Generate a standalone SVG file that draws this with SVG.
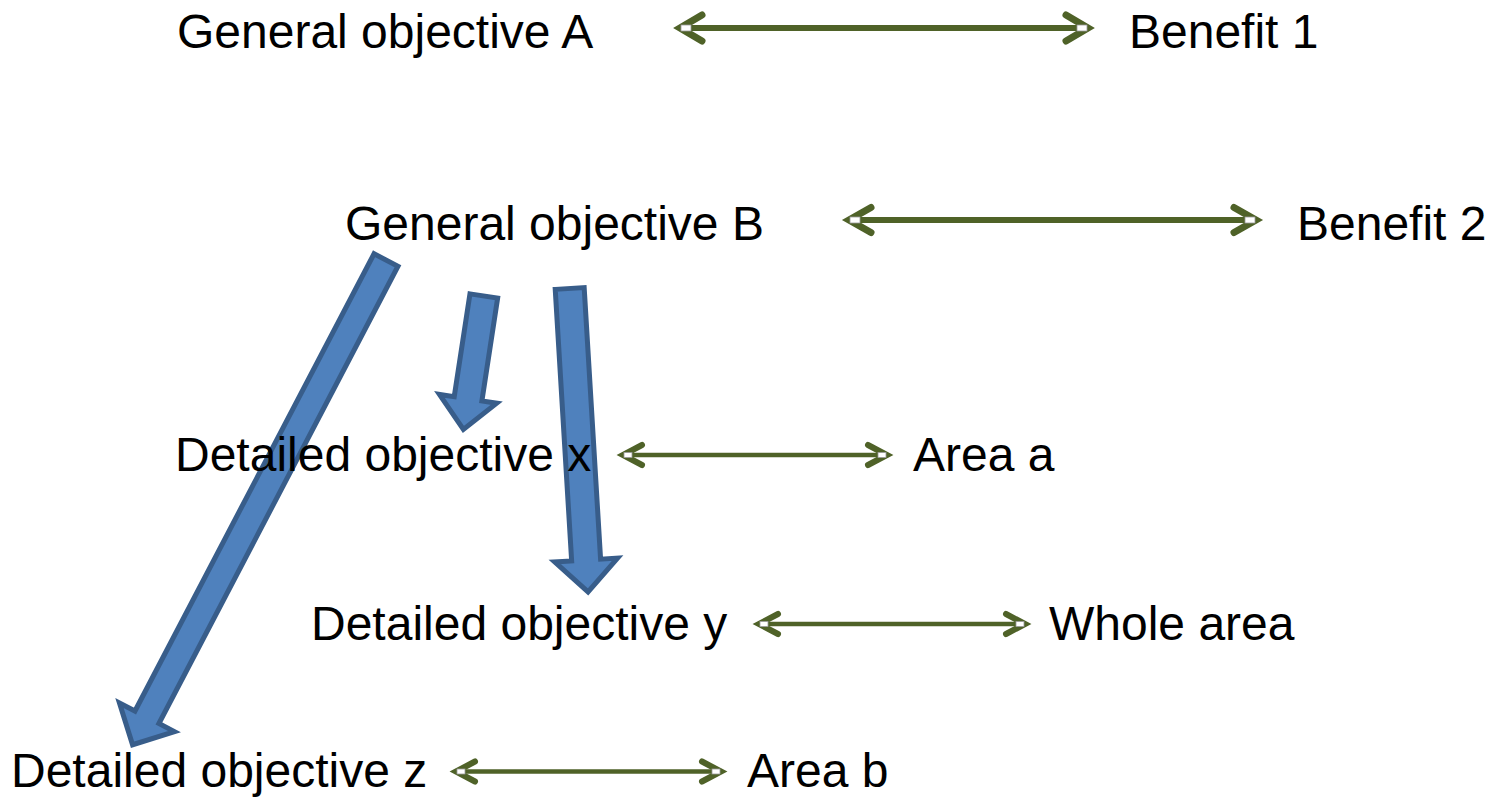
<svg xmlns="http://www.w3.org/2000/svg" width="1492" height="798" viewBox="0 0 1492 798">
<style>
.t{font-family:"Liberation Sans",Arial,sans-serif;font-size:48px;fill:#000}
.blk{fill:#4F81BD;stroke:#385D8A;stroke-width:5;stroke-linejoin:miter}
.ln{stroke:#4F6228;fill:none}
.big{stroke-width:6}
.sm{stroke-width:4.5}
.hd{stroke:#4F6228;fill:none;stroke-linecap:round;stroke-linejoin:miter;stroke-miterlimit:10}
.hb{stroke-width:7}
.hs{stroke-width:6}
.hdl{fill:#fff;stroke:#9a9a9a;stroke-width:0.8}
</style>
<rect width="1492" height="798" fill="#fff"/>
<g id="block-arrows">
<path class="blk" transform="translate(386,260) rotate(27.6)" d="M-13.5,0 L13.5,0 L13.5,516 L31,516 L0,547 L-31,516 L-13.5,516 Z"/>
<path class="blk" transform="translate(483.8,296) rotate(8.7)" d="M-14,0 L14,0 L14,104 L29,104 L0,135 L-29,104 L-14,104 Z"/>
<path class="blk" transform="translate(569.7,288.5) rotate(-3.46)" d="M-14.5,0 L14.5,0 L14.5,272 L31.5,272 L0,304 L-31.5,272 L-14.5,272 Z"/>
</g>
<g id="connectors">
<line class="ln big" x1="680" y1="28" x2="1088" y2="28"/>
<polyline class="hd hb" points="702,15 680,28 702,41"/>
<polyline class="hd hb" points="1066,15 1088,28 1066,41"/>
<rect class="hdl" x="681" y="25" width="10" height="6"/>
<rect class="hdl" x="1077" y="25" width="10" height="6"/>

<line class="ln big" x1="849" y1="220" x2="1256" y2="220"/>
<polyline class="hd hb" points="871,207.5 849,220 871,232.5"/>
<polyline class="hd hb" points="1234,207.5 1256,220 1234,232.5"/>
<rect class="hdl" x="850" y="217" width="10" height="6"/>
<rect class="hdl" x="1245" y="217" width="10" height="6"/>

<line class="ln sm" x1="623" y1="455" x2="887" y2="455"/>
<polyline class="hd hs" points="642,445 623,455 642,465"/>
<polyline class="hd hs" points="868,445 887,455 868,465"/>
<rect class="hdl" x="624" y="452.5" width="8" height="5"/>
<rect class="hdl" x="878" y="452.5" width="8" height="5"/>

<line class="ln sm" x1="759" y1="624" x2="1025" y2="624"/>
<polyline class="hd hs" points="778,614 759,624 778,634"/>
<polyline class="hd hs" points="1006,614 1025,624 1006,634"/>
<rect class="hdl" x="760" y="621.5" width="8" height="5"/>
<rect class="hdl" x="1016" y="621.5" width="8" height="5"/>

<line class="ln sm" x1="456" y1="771.5" x2="721" y2="771.5"/>
<polyline class="hd hs" points="475,761.5 456,771.5 475,781.5"/>
<polyline class="hd hs" points="702,761.5 721,771.5 702,781.5"/>
<rect class="hdl" x="457" y="769" width="8" height="5"/>
<rect class="hdl" x="712" y="769" width="8" height="5"/>
</g>
<g id="n-general-a"><text class="t" x="177" y="48">General objective A</text></g>
<g id="n-benefit-1"><text class="t" x="1129" y="48">Benefit 1</text></g>
<g id="n-general-b"><text class="t" x="345" y="240">General objective B</text></g>
<g id="n-benefit-2"><text class="t" x="1297" y="240">Benefit 2</text></g>
<g id="n-detailed-x"><text class="t" x="175" y="471">Detailed objective x</text></g>
<g id="n-area-a"><text class="t" x="913" y="471">Area a</text></g>
<g id="n-detailed-y"><text class="t" x="311" y="640">Detailed objective y</text></g>
<g id="n-whole-area"><text class="t" x="1049" y="640">Whole area</text></g>
<g id="n-detailed-z"><text class="t" x="11" y="787">Detailed objective z</text></g>
<g id="n-area-b"><text class="t" x="747" y="787">Area b</text></g>
</svg>
